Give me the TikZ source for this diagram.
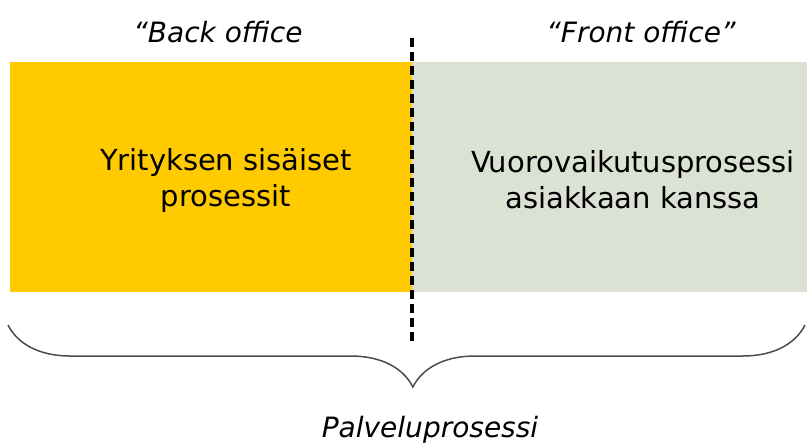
\documentclass[tikz,border=0pt]{standalone}
\usepackage{fontspec}
\setmainfont{DejaVu Sans}
\usetikzlibrary{decorations.pathreplacing}
\definecolor{backyellow}{HTML}{FFCA00}
\definecolor{frontgreen}{HTML}{DBE1D3}
\tikzset{
  box/.style={inner sep=0pt, outer sep=0pt, minimum height=230pt},
  boxtext/.style={align=center, font=\fontsize{29}{36}\selectfont},
  toplabel/.style={anchor=base, font=\fontsize{28}{32}\selectfont\itshape}
}
\begin{document}
\begin{tikzpicture}[x=1pt, y=-1pt]
    \useasboundingbox (0,0) rectangle (807,444);

    \node[box, fill=backyellow, minimum width=402pt, anchor=north west] (back) at (10,62) {};
    \node[box, fill=frontgreen, minimum width=395pt, anchor=north west] (front) at (412,62) {};

    \node[boxtext] (backtext) at (226,180) {Yrityksen sisäiset\\prosessit};
    \node[boxtext] (fronttext) at (633,180) {Vuorovaikutusprosessi\\asiakkaan kanssa};

    \node[toplabel] (backlabel) at (218,43) {“Back office};
    \node[toplabel] (frontlabel) at (641,43) {“Front office”};

    \coordinate (divtop) at (412,38);
    \coordinate (divbot) at (412,342);
    \draw[line width=3.5pt, dash pattern=on 9pt off 5pt] (divtop) -- (divbot);

    \coordinate (braceleft) at (8,325);
    \coordinate (braceright) at (805,325);
    \draw[line width=1.5pt, black!70, decorate, decoration={brace, mirror, amplitude=62pt, aspect=0.508}] (braceleft) -- (braceright);

    \node[toplabel] (total) at (430,437) {Palveluprosessi};
\end{tikzpicture}
\end{document}
